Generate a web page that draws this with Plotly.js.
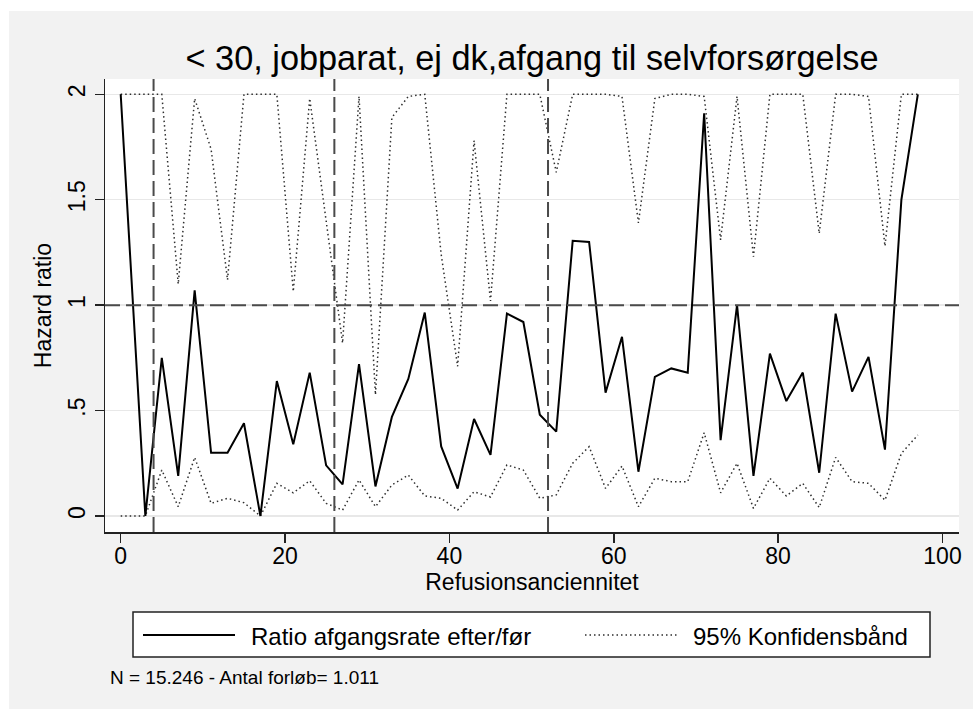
<!DOCTYPE html>
<html>
<head>
<meta charset="utf-8">
<script src="https://cdn.plot.ly/plotly-3.0.1.min.js"></script>
<style>
  html, body { margin: 0; padding: 0; background: #ffffff; }
  #chart { position: absolute; left: 9px; top: 11px; width: 964px; height: 698px; }
</style>
</head>
<body>
<div id="chart"></div>
<script>
// ---- data ----
const refusionsanciennitet = [0, 3, 5, 7, 9, 11, 13, 15, 17, 19, 21, 23, 25, 27, 29, 31, 33, 35, 37, 39,
  41, 43, 45, 47, 49, 51, 53, 55, 57, 59, 61, 63, 65, 67, 69, 71, 73, 75, 77, 79,
  81, 83, 85, 87, 89, 91, 93, 95, 97];

const ratio = [2.0, 0.0, 0.75, 0.19, 1.07, 0.30, 0.30, 0.44, 0.0, 0.64, 0.34, 0.68, 0.24, 0.15, 0.72, 0.14, 0.47, 0.65, 0.965, 0.33,
  0.13, 0.46, 0.29, 0.96, 0.92, 0.48, 0.40, 1.305, 1.30, 0.585, 0.85, 0.21, 0.66, 0.70, 0.68, 1.91, 0.36, 1.00, 0.19, 0.77,
  0.545, 0.68, 0.205, 0.96, 0.59, 0.755, 0.315, 1.50, 2.0];

const upperCI = [2.0, 2.0, 2.0, 1.10, 1.98, 1.74, 1.12, 2.0, 2.0, 2.0, 1.065, 1.98, 1.40, 0.82, 1.99, 0.575, 1.89, 1.99, 2.0, 1.24,
  0.71, 1.78, 1.02, 2.0, 2.0, 2.0, 1.63, 2.0, 2.0, 2.0, 1.99, 1.39, 1.98, 2.0, 2.0, 1.99, 1.31, 1.99, 1.23, 2.0,
  2.0, 2.0, 1.34, 2.0, 2.0, 1.99, 1.28, 2.0, 2.0];

const lowerCI = [0.0, 0.0, 0.218, 0.044, 0.278, 0.06, 0.084, 0.063, 0.0, 0.155, 0.11, 0.167, 0.06, 0.028, 0.171, 0.044, 0.147, 0.194, 0.095, 0.084,
  0.028, 0.115, 0.09, 0.242, 0.218, 0.084, 0.10, 0.25, 0.329, 0.131, 0.237, 0.044, 0.179, 0.163, 0.163, 0.395, 0.11, 0.25, 0.036, 0.179,
  0.095, 0.155, 0.04, 0.278, 0.163, 0.155, 0.075, 0.297, 0.384];

const xLines = [4, 26, 52];
const yLine = 1;

const xTickVals = [0, 20, 40, 60, 80, 100];
const yTickVals = [0, 0.5, 1, 1.5, 2];
const yTickText = ['0', '.5', '1', '1.5', '2'];

const titleText = '< 30, jobparat, ej dk,afgang til selvforsørgelse';
const xTitle = 'Refusionsanciennitet';
const yTitle = 'Hazard ratio';
const legendLabels = ['Ratio afgangsrate efter/før', '95% Konfidensbånd'];
const noteText = 'N = 15.246 - Antal forløb= 1.011';

// ---- layout helpers (page pixel -> paper coords) ----
const PLOT_L = 105, PLOT_W = 854, PLOT_B = 532, PLOT_H = 453;
const px = x => (x - PLOT_L) / PLOT_W;
const py = y => (PLOT_B - y) / PLOT_H;

const FONT = '"Liberation Sans", Arial, Helvetica, sans-serif';
const ciLine = { color: '#2e2e2e', width: 1.5, dash: '1.5px,3px' };

const traces = [
  { x: refusionsanciennitet, y: upperCI, type: 'scatter', mode: 'lines', name: legendLabels[1],
    line: ciLine, showlegend: false, hoverinfo: 'x+y' },
  { x: refusionsanciennitet, y: lowerCI, type: 'scatter', mode: 'lines', name: legendLabels[1],
    line: ciLine, showlegend: false, hoverinfo: 'x+y' },
  { x: refusionsanciennitet, y: ratio, type: 'scatter', mode: 'lines', name: legendLabels[0],
    line: { color: '#000000', width: 2 }, showlegend: false, hoverinfo: 'x+y' }
];

const refDash = { color: '#4a4a4a', width: 2, dash: '15px,6px' };
const shapes = [];
xLines.forEach(v => shapes.push({ type: 'line', layer: 'above', xref: 'x', yref: 'paper',
  x0: v, x1: v, y0: 0, y1: 1, line: refDash }));
shapes.push({ type: 'line', layer: 'above', xref: 'paper', yref: 'y',
  x0: 0, x1: 1, y0: yLine, y1: yLine, line: refDash });

// legend box (drawn by hand to match Stata's layout)
const legY = 635;
shapes.push({ type: 'rect', xref: 'paper', yref: 'paper', x0: px(133), x1: px(930), y0: py(657), y1: py(612),
  fillcolor: '#ffffff', line: { color: '#222222', width: 1.5 } });
shapes.push({ type: 'line', xref: 'paper', yref: 'paper', x0: px(143), x1: px(235), y0: py(legY), y1: py(legY),
  line: { color: '#000000', width: 2 } });
shapes.push({ type: 'line', xref: 'paper', yref: 'paper', x0: px(585), x1: px(677), y0: py(legY), y1: py(legY),
  line: ciLine });

const annotations = [
  { text: legendLabels[0], xref: 'paper', yref: 'paper', x: px(249), y: py(legY + 1), xanchor: 'left', yanchor: 'middle',
    showarrow: false, font: { family: FONT, size: 24, color: '#000' } },
  { text: legendLabels[1], xref: 'paper', yref: 'paper', x: px(691), y: py(legY + 1), xanchor: 'left', yanchor: 'middle',
    showarrow: false, font: { family: FONT, size: 24, color: '#000' } },
  { text: noteText, xref: 'paper', yref: 'paper', x: px(108), y: py(677), xanchor: 'left', yanchor: 'middle',
    showarrow: false, font: { family: FONT, size: 19, color: '#000' } }
];

const layout = {
  width: 964, height: 698,
  margin: { l: 96, r: 14, t: 68, b: 177 },
  paper_bgcolor: '#f2f2f2',
  plot_bgcolor: '#ffffff',
  font: { family: FONT, color: '#000' },
  showlegend: false,
  title: { text: titleText, font: { family: FONT, size: 34.3, color: '#000' },
    x: 0.5, xref: 'paper', xanchor: 'center', y: 1 - 35 / 698, yref: 'container', yanchor: 'top' },
  xaxis: {
    range: [-1.91, 102.01], tickvals: xTickVals, ticks: 'outside', ticklen: 9, tickwidth: 1.5, tickcolor: '#222',
    showline: true, linecolor: '#222', linewidth: 1.5, showgrid: false, zeroline: false,
    ticklabelstandoff: -6,
    tickfont: { family: FONT, size: 23, color: '#000' },
    title: { text: xTitle, font: { family: FONT, size: 23, color: '#000' }, standoff: 0 }
  },
  yaxis: {
    range: [-0.0759, 2.0726], tickvals: yTickVals, ticktext: yTickText, tickangle: -90,
    ticks: 'outside', ticklen: 9, tickwidth: 1.5, tickcolor: '#222',
    showline: true, linecolor: '#222', linewidth: 1.5, showgrid: true, gridcolor: '#e8e8e8', gridwidth: 1.5,
    zeroline: false,
    tickfont: { family: FONT, size: 23, color: '#000' },
    title: { text: yTitle, font: { family: FONT, size: 23, color: '#000' }, standoff: 6 }
  },
  shapes: shapes,
  annotations: annotations
};

Plotly.newPlot('chart', traces, layout, { displayModeBar: false, staticPlot: true });
</script>
</body>
</html>
